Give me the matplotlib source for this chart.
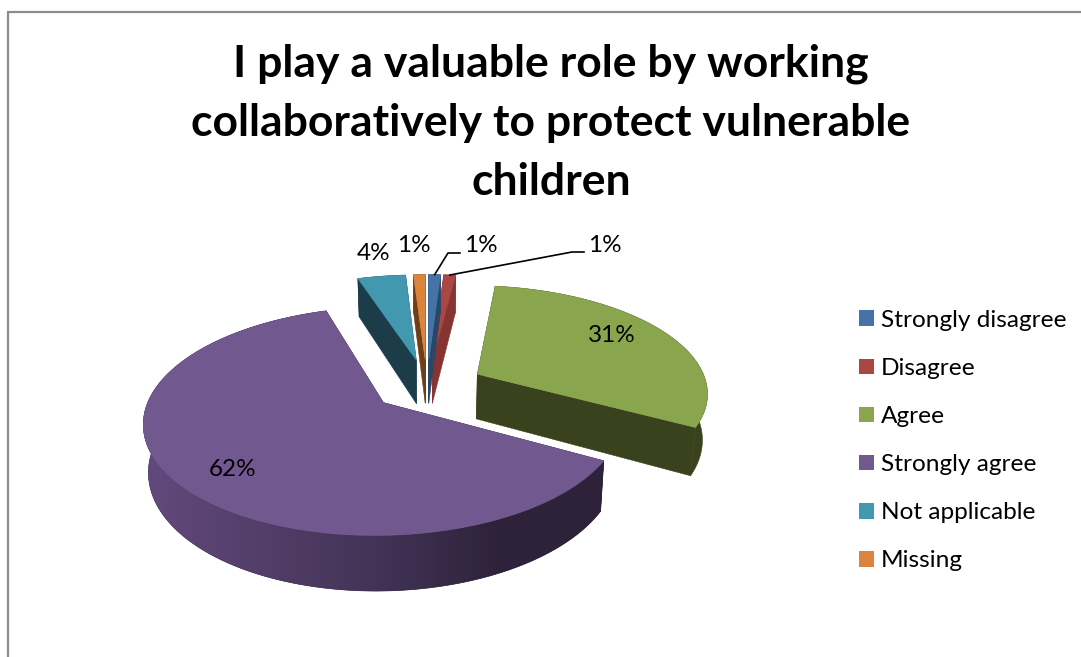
import numpy as np
import matplotlib
matplotlib.use('Agg')
import matplotlib.pyplot as plt
from matplotlib.colors import LinearSegmentedColormap
from matplotlib.patches import Patch, Polygon

# Dados do grafico
categorias = ['Strongly disagree', 'Disagree', 'Agree', 'Strongly agree', 'Not applicable', 'Missing']
valores = [1, 1, 31, 62, 4, 1]
titulo = 'I play a valuable role by working\ncollaboratively to protect vulnerable\nchildren'

# Estilo de cada fatia
cores = ['#4573a7', '#aa4643', '#89a54e', '#71588f', '#4198af', '#db843d']
cores_parede = ['#2a4768', '#853432', '#39421d', '#2d233a', '#1b3c48', '#6d3e17']
explosao = [0.26, 0.26, 0.25, 0.24, 0.26, 0.26]
ordem_desenho = [4, 5, 1, 0, 2, 3]

# Projecao em perspectiva do plano da pizza
OX, OY = 427, 386
R, RB = 230, 106
K = 0.158
ALTURA = 45.5
AFUNILA = 0.018  # a base fica um pouco mais estreita que o topo


def projetar(x, y):
    w = 1 + K * y
    return OX + R * x / w, OY - RB * y / w, ALTURA / w


def base_x(x):
    return OX + (x - OX) * (1 - AFUNILA)


fig, ax = plt.subplots(figsize=(10.81, 6.57), dpi=100)
fig.subplots_adjust(0, 0, 1, 1)

# Moldura cinza
ax.plot([8, 8, 1081], [657, 12, 12], color='#8c8c8c', lw=1.6, solid_joinstyle='miter')

acum = np.cumsum([0] + valores) / sum(valores) * 360
topos = {}
grad_roxo = LinearSegmentedColormap.from_list(
    'roxo', [(0, '#634a7d'), (0.5, '#423356'), (0.75, '#2e2239'), (1, '#2d233a')])

for i in ordem_desenho:
    ini = np.radians(90 - acum[i])
    fim = np.radians(90 - acum[i + 1])
    meio = (ini + fim) / 2
    ax0 = explosao[i] * np.cos(meio)
    ay0 = explosao[i] * np.sin(meio)
    t = np.linspace(ini, fim, 200)
    xs, ys, ds = projetar(ax0 + np.cos(t), ay0 + np.sin(t))
    px, py, pd_ = projetar(ax0, ay0)
    topos[i] = (xs, ys)

    # paredes internas
    for k in (0, -1):
        quad = [(px, py), (xs[k], ys[k]), (base_x(xs[k]), ys[k] + ds[k]), (base_x(px), py + pd_)]
        ax.add_patch(Polygon(quad, closed=True, fc=cores_parede[i], ec=cores_parede[i], lw=0.4))

    # parede externa, com degrade na fatia roxa
    borda = np.column_stack([np.r_[xs, base_x(xs)[::-1]], np.r_[ys, (ys + ds)[::-1]]])
    parede = Polygon(borda, closed=True, fc=cores_parede[i], ec=cores_parede[i], lw=0.4)
    ax.add_patch(parede)
    if i == 3:
        faixa = np.linspace(0, 1, 256).reshape(1, -1)
        img = ax.imshow(faixa, cmap=grad_roxo, extent=(140, 620, 657, 0), aspect='auto', zorder=1)
        img.set_clip_path(parede)

    # face superior
    topo = np.column_stack([np.r_[px, xs], np.r_[py, ys]])
    ax.add_patch(Polygon(topo, closed=True, fc=cores[i], ec=cores[i], lw=0.4))

ax.set_xlim(0, 1081)
ax.set_ylim(657, 0)
ax.axis('off')

fonte = 'Lato'
ax.text(551, 123, titulo, ha='center', va='center', fontsize=32, fontweight='bold',
        family=fonte, linespacing=1.573, color='black')

# Rotulos de porcentagem
pos_rotulos = [(481, 246), (605, 246), (612, 335), (233, 470), (374, 254), (414, 246)]
for v, (x, y) in zip(valores, pos_rotulos):
    ax.text(x, y, f'{v}%', ha='center', va='center', fontsize=17.5, family=fonte, color='black')

# Linhas de chamada das duas primeiras fatias
cotovelos = [((448, 253), (460, 253)), ((572, 252), (584, 252))]
for i, (c1, c2) in enumerate(cotovelos):
    xs, ys = topos[i]
    ax.plot([xs[len(xs) // 2], c1[0], c2[0]], [ys[len(ys) // 2], c1[1], c2[1]], color='black', lw=1.2)

# Legenda
alcas = [Patch(fc=c, ec=c, lw=0) for c in cores]
ax.legend(alcas, categorias, loc='upper left', bbox_to_anchor=(859, 310), bbox_transform=ax.transData,
          frameon=False, prop={'family': fonte, 'size': 17.6}, handlelength=0.62, handleheight=0.62,
          handletextpad=0.29, labelspacing=1.107, borderpad=0, borderaxespad=0)

fig.savefig('out.png', dpi=100)
